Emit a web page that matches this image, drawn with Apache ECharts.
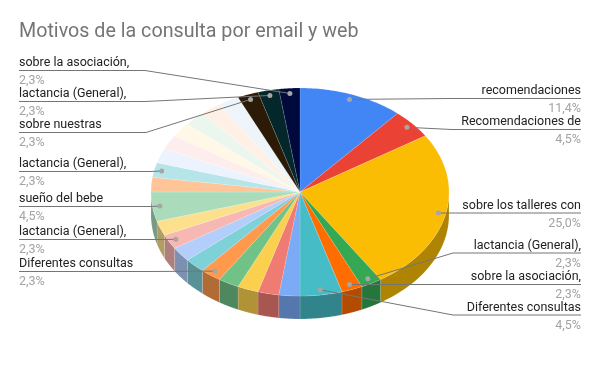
<!DOCTYPE html>
<html>
<head>
<meta charset="utf-8">
<style>html,body{margin:0;padding:0;background:#fff}#main{width:600px;height:371px}</style>
<script src="https://cdn.jsdelivr.net/npm/echarts@6/dist/echarts.min.js"></script>
</head>
<body>
<div id="main"></div>
<script>
var titleText = 'Motivos de la consulta por email y web';
// slices clockwise from 12 o'clock, counts of consultas
var categories = ['recomendaciones','Recomendaciones de','sobre los talleres con','lactancia (General),','sobre la asociación,','Diferentes consultas','','','','','Diferentes consultas','','','lactancia (General),','','sueño del bebe','','lactancia (General),','','','','','','','sobre nuestras','lactancia (General),','sobre la asociación,'];
var values = [5,2,11,1,1,2,1,1,1,1,1,1,1,1,1,2,1,1,1,1,1,1,1,1,1,1,1];
var colors = ['#4285f4','#ea4335','#fbbc04','#34a853','#ff6d01','#46bdc6','#7baaf7','#f07b72','#fcd04f','#71c287','#ff994d','#7ed1d7','#b3cefb','#f7b7b2','#fde08e','#aadcbb','#ffc599','#b5e5e8','#ecf3fe','#fdeeed','#fff8e6','#ebf6ee','#fff0e6','#edf5fb','#2a1a06','#03272a','#010a3c'];
// leader rows: slice index, y of the underline, x of the elbow
var labelRows = [
    [0, 98.5, 450], [1, 129.5, 452], [2, 213, 452], [3, 253, 453], [4, 284.5, 448], [5, 315, 453],
    [26, 70.5, 145], [25, 101.5, 145], [24, 132.5, 146], [17, 171.5, 150], [15, 206.5, 150], [13, 239.5, 150], [10, 271.5, 150]
];

var cx = 300, cy = 192, rx = 149, ry = 104, depth = 23;
var total = values.reduce(function (a, b) { return a + b; }, 0);
var starts = [], sum = 0;
values.forEach(function (v) { starts.push(sum / total * 360); sum += v; });

function pt(deg, frac, dy) {
    var a = deg * Math.PI / 180;
    return [cx + rx * frac * Math.sin(a), cy + (dy || 0) - ry * frac * Math.cos(a)];
}
function shade(hex) {
    var n = parseInt(hex.slice(1), 16);
    var k = 0.7;
    return 'rgb(' + Math.round((n >> 16) * k) + ',' + Math.round(((n >> 8) & 255) * k) + ',' + Math.round((n & 255) * k) + ')';
}
function sweep(idx) {
    return [starts[idx], starts[idx] + values[idx] / total * 360];
}

function renderWall(params, api) {
    var s = sweep(params.dataIndex);
    var a0 = Math.max(s[0], 90), a1 = Math.min(s[1], 270);
    if (a1 <= a0) return null;
    var top = [], bottom = [];
    for (var i = 0; i <= 40; i++) {
        var d = a0 + (a1 - a0) * i / 40;
        top.push(pt(d, 1, 0));
        bottom.unshift(pt(d, 1, depth));
    }
    return { type: 'polygon', shape: { points: top.concat(bottom) },
        style: { fill: shade(colors[params.dataIndex]), stroke: 'rgba(255,255,255,0.25)', lineWidth: 0.5 } };
}
function renderFace(params, api) {
    var s = sweep(params.dataIndex);
    var points = [[cx, cy]];
    for (var i = 0; i <= 40; i++) {
        points.push(pt(s[0] + (s[1] - s[0]) * i / 40, 1, 0));
    }
    return { type: 'polygon', shape: { points: points },
        style: { fill: colors[params.dataIndex], stroke: 'rgba(255,255,255,0.25)', lineWidth: 0.5 } };
}
function renderLabel(params, api) {
    var row = labelRows[params.dataIndex];
    var idx = row[0], y = row[1], elbow = row[2];
    var s = sweep(idx);
    var dot = pt((s[0] + s[1]) / 2, 0.95, 0);
    var right = idx < 13 && dot[0] > cx;
    var endX = right ? 581 : 19;
    var pct = (values[idx] / total * 100).toFixed(1).replace('.', ',') + '%';
    return { type: 'group', children: [
        { type: 'polyline', shape: { points: [dot, [elbow, y], [endX, y]] },
          style: { stroke: '#757575', lineWidth: 1, fill: 'none' } },
        { type: 'circle', shape: { cx: dot[0], cy: dot[1], r: 2.5 }, style: { fill: '#a6a6a6' } },
        { type: 'text', style: { x: endX, y: y - 1, text: categories[idx], fill: '#222222',
            font: '12.5px Roboto', align: right ? 'right' : 'left', verticalAlign: 'bottom' } },
        { type: 'text', style: { x: endX, y: y + 4, text: pct, fill: '#a3a3a3',
            font: '12.5px Roboto', align: right ? 'right' : 'left', verticalAlign: 'top' } }
    ] };
}

var myChart = echarts.init(document.getElementById('main'));
var option = {
    animation: false,
    title: {
        text: titleText, left: 19, top: 22, padding: 0,
        textStyle: { color: '#757575', fontFamily: 'Roboto', fontSize: 19.7, fontWeight: 'normal' }
    },
    series: [
        { type: 'custom', coordinateSystem: 'none', silent: true, data: values, renderItem: renderWall },
        { type: 'custom', coordinateSystem: 'none', silent: true, data: values, renderItem: renderFace },
        { type: 'custom', coordinateSystem: 'none', silent: true, data: labelRows.map(function (r) { return r[0]; }), renderItem: renderLabel }
    ]
};
myChart.setOption(option, true);
</script>
</body>
</html>
